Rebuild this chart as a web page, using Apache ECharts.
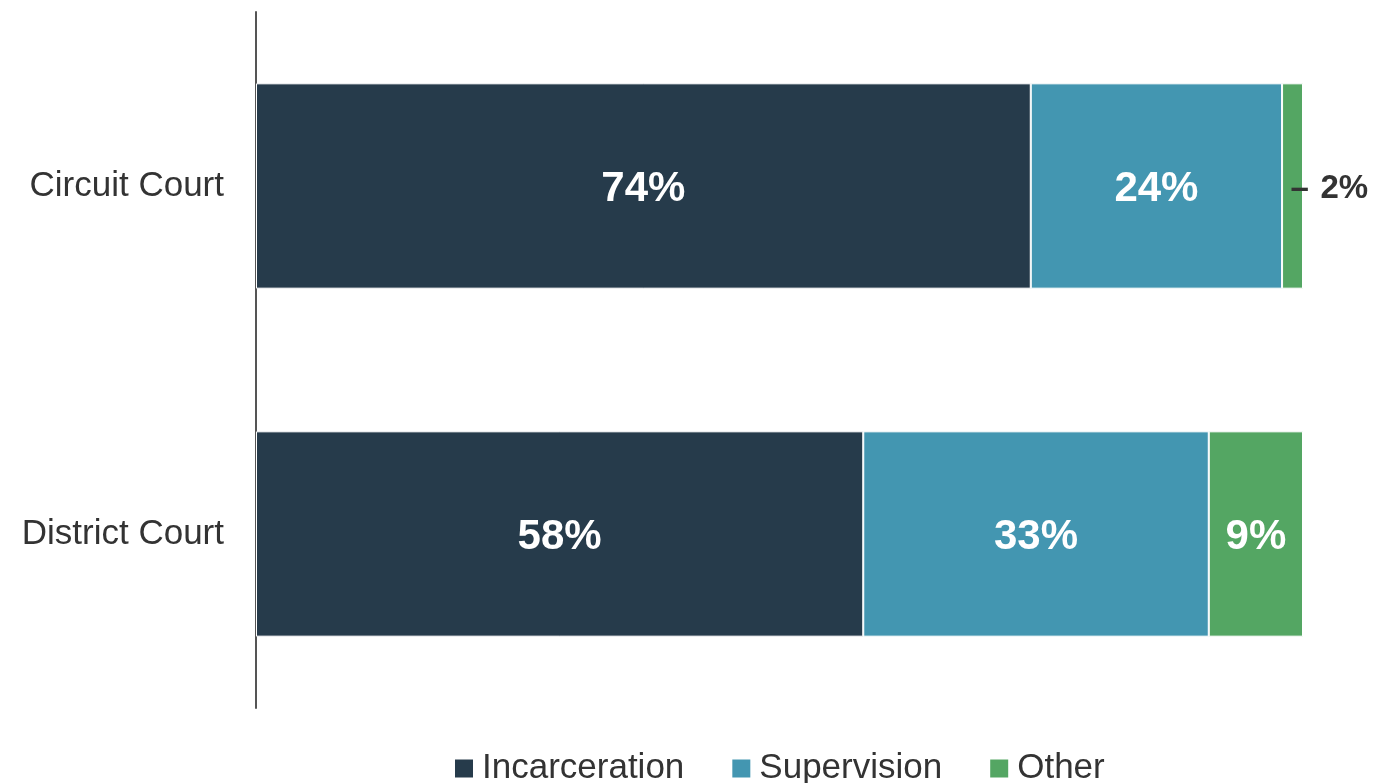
<!DOCTYPE html>
<html>
<head>
<meta charset="utf-8">
<script src="https://cdn.jsdelivr.net/npm/echarts@6/dist/echarts.min.js"></script>
<style>
  html, body { margin: 0; padding: 0; background: #fff; }
  #chart { width: 1374px; height: 783px; }
</style>
</head>
<body>
<div id="chart"></div>
<script>
// Sentence type shares by court level (percent of cases)
const courts = ['Circuit Court', 'District Court'];
const incarceration = [74, 58];
const supervision = [24, 33];
const other = [2, 9];

const colors = ['#263b4b', '#4396b1', '#54a663'];
const fontFamily = '"Liberation Sans", Arial, sans-serif';

const insideLabel = {
  show: true,
  position: 'inside',
  offset: [0, 3],
  color: '#ffffff',
  fontFamily: fontFamily,
  fontWeight: 'bold',
  fontSize: 42,
  formatter: p => p.value + '%'
};

// Small segments get their value written outside the bar with a short dash
function otherData(values) {
  return values.map(v => {
    if (v >= 5) return v;
    return {
      value: v,
      label: {
        show: true,
        position: ['40%', '50%'],
        offset: [0, 3],
        align: 'left',
        verticalAlign: 'middle',
        formatter: '{d|–}{v|' + v + '%}',
        rich: {
          d: { width: 30, fontSize: 33, fontWeight: 'bold', color: '#333', fontFamily: fontFamily },
          v: { fontSize: 33, fontWeight: 'bold', color: '#333', fontFamily: fontFamily }
        }
      }
    };
  });
}

const seriesBase = {
  type: 'bar',
  stack: 'total',
  barWidth: '59%',
  itemStyle: { borderColor: '#ffffff', borderWidth: 1 },
  label: insideLabel
};

const chart = echarts.init(document.getElementById('chart'), null, { renderer: 'canvas' });
chart.setOption({
  animation: false,
  color: colors,
  grid: { left: 256, right: 71, top: 12, bottom: 75 },
  xAxis: {
    type: 'value',
    min: 0,
    max: 100,
    show: false
  },
  yAxis: {
    type: 'category',
    data: courts,
    inverse: true,
    axisLine: { show: true, lineStyle: { color: '#555', width: 2 } },
    axisTick: { show: false },
    axisLabel: {
      color: '#333',
      fontFamily: fontFamily,
      fontSize: 35,
      margin: 32,
      padding: [4, 0, 0, 0]
    }
  },
  legend: {
    top: 746,
    left: 448,
    itemWidth: 20,
    itemHeight: 20,
    itemGap: 46,
    icon: 'rect',
    textStyle: { color: '#333', fontFamily: fontFamily, fontSize: 35, padding: [0, 0, 0, 3] },
    data: ['Incarceration', 'Supervision', 'Other']
  },
  series: [
    Object.assign({}, seriesBase, { name: 'Incarceration', data: incarceration }),
    Object.assign({}, seriesBase, { name: 'Supervision', data: supervision }),
    Object.assign({}, seriesBase, { name: 'Other', data: otherData(other) })
  ]
});
</script>
</body>
</html>
